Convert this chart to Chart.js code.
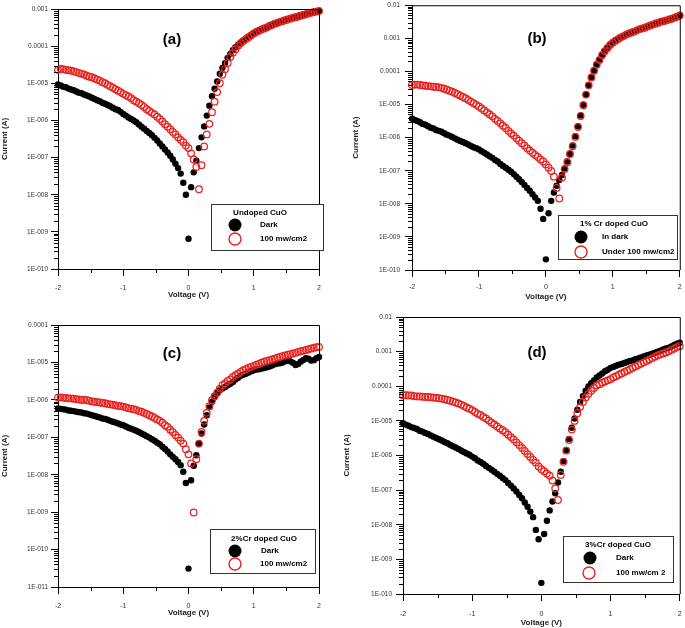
<!DOCTYPE html>
<html><head><meta charset="utf-8">
<script src="https://cdn.jsdelivr.net/npm/chart.js@4.4.0/dist/chart.umd.min.js"></script>
<style>
body{margin:0;background:#fff;width:685px;height:628px;position:relative;overflow:hidden}
canvas{position:absolute}
</style></head><body>
<canvas id="ca" style="left:0;top:0" width="330" height="300"></canvas>
<canvas id="cb" style="left:340px;top:0" width="345" height="310"></canvas>
<canvas id="cc" style="left:0;top:300px" width="330" height="328"></canvas>
<canvas id="cd" style="left:340px;top:300px" width="345" height="328"></canvas>
<script>
const voltage = [-2,-1.96,-1.92,-1.88,-1.84,-1.8,-1.76,-1.72,-1.68,-1.64,-1.6,-1.56,-1.52,-1.48,-1.44,-1.4,-1.36,-1.32,-1.28,-1.24,-1.2,-1.16,-1.12,-1.08,-1.04,-1,-0.96,-0.92,-0.88,-0.84,-0.8,-0.76,-0.72,-0.68,-0.64,-0.6,-0.56,-0.52,-0.48,-0.44,-0.4,-0.36,-0.32,-0.28,-0.24,-0.2,-0.16,-0.12,-0.08,-0.04,0,0.04,0.08,0.12,0.16,0.2,0.24,0.28,0.32,0.36,0.4,0.44,0.48,0.52,0.56,0.6,0.64,0.68,0.72,0.76,0.8,0.84,0.88,0.92,0.96,1,1.04,1.08,1.12,1.16,1.2,1.24,1.28,1.32,1.36,1.4,1.44,1.48,1.52,1.56,1.6,1.64,1.68,1.72,1.76,1.8,1.84,1.88,1.92,1.96,2];

const darkA = [9.3e-6,8.7e-6,8.1e-6,7.8e-6,7.2e-6,6.8e-6,6.5e-6,6.0e-6,5.6e-6,5.4e-6,
5.0e-6,4.7e-6,4.4e-6,4.1e-6,3.8e-6,3.5e-6,3.3e-6,3.0e-6,2.8e-6,2.6e-6,
2.4e-6,2.2e-6,2.0e-6,1.9e-6,1.7e-6,1.5e-6,1.35e-6,1.2e-6,1.1e-6,1.0e-6,
8.9e-7,7.8e-7,6.8e-7,6.0e-7,5.2e-7,4.6e-7,4.0e-7,3.4e-7,2.9e-7,2.4e-7,
2.0e-7,1.66e-7,1.38e-7,1.12e-7,8.9e-8,6.8e-8,5.2e-8,3.7e-8,2.1e-8,1.0e-8,
6.5e-10,1.6e-8,4.0e-8,8.3e-8,1.8e-7,3.5e-7,6.9e-7,1.35e-6,2.5e-6,4.5e-6,
7.1e-6,1.12e-5,1.8e-5,2.6e-5,3.5e-5,4.8e-5,6.2e-5,7.8e-5,9.3e-5,1.1e-4,
1.26e-4,1.4e-4,1.6e-4,1.8e-4,2.0e-4,2.2e-4,2.45e-4,2.6e-4,2.9e-4,3.1e-4,
3.3e-4,3.5e-4,3.8e-4,4.0e-4,4.3e-4,4.5e-4,4.8e-4,5.0e-4,5.3e-4,5.6e-4,
5.9e-4,6.2e-4,6.5e-4,6.8e-4,7.1e-4,7.4e-4,7.8e-4,8.1e-4,8.3e-4,8.7e-4,8.9e-4];
const lightA = [2.3e-5,2.45e-5,2.4e-5,2.3e-5,2.25e-5,2.2e-5,2.1e-5,2.0e-5,1.9e-5,1.8e-5,
1.74e-5,1.6e-5,1.5e-5,1.45e-5,1.35e-5,1.26e-5,1.17e-5,1.07e-5,1.0e-5,9.1e-6,
8.3e-6,7.6e-6,6.9e-6,6.3e-6,5.8e-6,5.2e-6,4.8e-6,4.4e-6,4.0e-6,3.5e-6,
3.2e-6,2.9e-6,2.6e-6,2.3e-6,2.0e-6,1.8e-6,1.6e-6,1.45e-6,1.26e-6,1.1e-6,
9.3e-7,7.9e-7,6.8e-7,5.8e-7,4.9e-7,4.2e-7,3.5e-7,3.0e-7,2.6e-7,2.1e-7,
1.8e-7,1.3e-7,8.9e-8,5.6e-8,1.4e-8,6.2e-8,2.0e-7,4.2e-7,8.1e-7,1.66e-6,
3.2e-6,5.8e-6,1.0e-5,1.7e-5,2.4e-5,3.5e-5,5.1e-5,6.6e-5,8.3e-5,1.02e-4,
1.2e-4,1.38e-4,1.55e-4,1.74e-4,1.95e-4,2.2e-4,2.4e-4,2.6e-4,2.8e-4,3.0e-4,
3.2e-4,3.5e-4,3.7e-4,4.0e-4,4.2e-4,4.5e-4,4.7e-4,5.0e-4,5.2e-4,5.5e-4,
5.8e-4,6.0e-4,6.3e-4,6.6e-4,6.9e-4,7.2e-4,7.6e-4,7.9e-4,8.3e-4,8.5e-4,8.9e-4];

const darkB = [3.7e-6,3.4e-6,3.2e-6,2.9e-6,2.6e-6,2.45e-6,2.2e-6,2.0e-6,1.9e-6,1.7e-6,
1.6e-6,1.5e-6,1.35e-6,1.23e-6,1.15e-6,1.05e-6,9.5e-7,8.7e-7,7.9e-7,7.4e-7,
6.8e-7,6.2e-7,5.6e-7,5.1e-7,4.8e-7,4.4e-7,3.9e-7,3.5e-7,3.1e-7,2.75e-7,
2.45e-7,2.1e-7,1.9e-7,1.6e-7,1.4e-7,1.23e-7,1.07e-7,9.3e-8,7.9e-8,6.6e-8,
5.5e-8,4.6e-8,3.7e-8,3.0e-8,2.5e-8,1.95e-8,1.55e-8,1.23e-8,7.1e-9,3.5e-9,
2.1e-10,5.2e-9,1.23e-8,2.2e-8,3.5e-8,5.2e-8,7.4e-8,1.17e-7,1.9e-7,3.2e-7,
5.8e-7,1.1e-6,2.2e-6,4.7e-6,9.8e-6,2.0e-5,3.9e-5,6.8e-5,1.07e-4,1.6e-4,
2.3e-4,3.2e-4,4.2e-4,5.2e-4,6.5e-4,7.6e-4,8.7e-4,9.8e-4,1.07e-3,1.17e-3,
1.3e-3,1.4e-3,1.5e-3,1.6e-3,1.75e-3,1.9e-3,2.0e-3,2.1e-3,2.3e-3,2.45e-3,
2.6e-3,2.8e-3,2.95e-3,3.2e-3,3.3e-3,3.5e-3,3.7e-3,3.9e-3,4.2e-3,4.5e-3,4.9e-3];
const lightB = [3.9e-5,4.0e-5,4.0e-5,3.9e-5,3.8e-5,3.7e-5,3.6e-5,3.55e-5,3.45e-5,3.4e-5,
3.3e-5,3.2e-5,3.0e-5,2.8e-5,2.6e-5,2.45e-5,2.25e-5,2.05e-5,1.85e-5,1.7e-5,
1.55e-5,1.38e-5,1.23e-5,1.1e-5,9.8e-6,8.7e-6,7.6e-6,6.6e-6,5.8e-6,5.0e-6,
4.4e-6,3.7e-6,3.2e-6,2.7e-6,2.3e-6,1.95e-6,1.6e-6,1.35e-6,1.15e-6,9.5e-7,
8.1e-7,6.8e-7,5.8e-7,4.8e-7,4.1e-7,3.5e-7,3.0e-7,2.6e-7,2.2e-7,1.9e-7,
1.55e-7,1.23e-7,9.8e-8,6.6e-8,3.0e-8,1.45e-8,6.2e-8,1.12e-7,1.8e-7,3.2e-7,
5.5e-7,1.05e-6,2.1e-6,4.5e-6,9.5e-6,2.0e-5,3.8e-5,6.6e-5,1.05e-4,1.6e-4,
2.2e-4,3.1e-4,4.1e-4,5.1e-4,6.3e-4,7.4e-4,8.5e-4,9.5e-4,1.07e-3,1.17e-3,
1.3e-3,1.4e-3,1.5e-3,1.6e-3,1.75e-3,1.9e-3,2.0e-3,2.1e-3,2.3e-3,2.45e-3,
2.6e-3,2.8e-3,2.95e-3,3.2e-3,3.3e-3,3.5e-3,3.7e-3,3.9e-3,4.2e-3,4.5e-3,4.9e-3];

const darkC = [5.9e-7,5.75e-7,5.6e-7,5.5e-7,5.2e-7,5.1e-7,5.0e-7,4.8e-7,4.7e-7,4.6e-7,
4.4e-7,4.3e-7,4.1e-7,3.9e-7,3.7e-7,3.55e-7,3.4e-7,3.2e-7,3.1e-7,2.95e-7,
2.75e-7,2.6e-7,2.5e-7,2.35e-7,2.2e-7,2.1e-7,1.95e-7,1.8e-7,1.7e-7,1.6e-7,
1.5e-7,1.38e-7,1.26e-7,1.17e-7,1.07e-7,9.8e-8,8.9e-8,8.1e-8,7.2e-8,6.5e-8,
5.6e-8,4.9e-8,4.2e-8,3.5e-8,3.0e-8,2.6e-8,2.2e-8,1.8e-8,1.2e-8,6.0e-9,
3.1e-11,7.1e-9,1.74e-8,3.3e-8,6.6e-8,1.26e-7,2.2e-7,3.9e-7,6.3e-7,8.9e-7,
1.2e-6,1.55e-6,1.8e-6,2.0e-6,2.2e-6,2.45e-6,2.7e-6,3.0e-6,3.5e-6,3.9e-6,
4.4e-6,4.7e-6,5.0e-6,5.4e-6,5.8e-6,6.2e-6,6.5e-6,6.6e-6,6.9e-6,7.1e-6,
7.4e-6,7.8e-6,8.3e-6,8.9e-6,9.3e-6,9.5e-6,1.0e-5,1.07e-5,1.1e-5,1.07e-5,
9.8e-6,8.5e-6,9.1e-6,1.05e-5,1.17e-5,1.3e-5,1.26e-5,1.12e-5,1.15e-5,1.3e-5,1.4e-5];
const lightC = [1.15e-6,1.17e-6,1.15e-6,1.12e-6,1.1e-6,1.1e-6,1.07e-6,1.05e-6,1.02e-6,1.0e-6,
1.0e-6,9.8e-7,9.5e-7,9.1e-7,8.9e-7,8.7e-7,8.5e-7,8.3e-7,8.1e-7,7.8e-7,
7.6e-7,7.4e-7,7.2e-7,6.9e-7,6.8e-7,6.6e-7,6.3e-7,6.0e-7,5.75e-7,5.6e-7,
5.4e-7,5.0e-7,4.8e-7,4.5e-7,4.2e-7,3.9e-7,3.6e-7,3.3e-7,3.0e-7,2.75e-7,
2.45e-7,2.1e-7,1.9e-7,1.6e-7,1.38e-7,1.15e-7,9.8e-8,8.1e-8,6.8e-8,4.8e-8,
3.5e-8,2.0e-8,9.8e-10,2.6e-8,6.8e-8,1.4e-7,2.75e-7,4.5e-7,6.8e-7,9.8e-7,
1.26e-6,1.55e-6,2.0e-6,2.45e-6,2.75e-6,3.2e-6,3.5e-6,4.1e-6,4.6e-6,5.0e-6,
5.6e-6,6.2e-6,6.6e-6,7.2e-6,7.6e-6,8.1e-6,8.7e-6,9.1e-6,9.8e-6,1.05e-5,
1.1e-5,1.15e-5,1.2e-5,1.26e-5,1.35e-5,1.4e-5,1.48e-5,1.55e-5,1.6e-5,1.66e-5,
1.74e-5,1.8e-5,1.9e-5,2.0e-5,2.05e-5,2.15e-5,2.25e-5,2.35e-5,2.45e-5,2.55e-5,2.6e-5];

const darkD = [8.5e-6,7.8e-6,7.2e-6,6.6e-6,6.2e-6,5.8e-6,5.2e-6,4.9e-6,4.5e-6,4.2e-6,
3.8e-6,3.5e-6,3.2e-6,2.95e-6,2.7e-6,2.45e-6,2.25e-6,2.05e-6,1.85e-6,1.7e-6,
1.55e-6,1.4e-6,1.26e-6,1.15e-6,1.05e-6,9.3e-7,8.3e-7,7.2e-7,6.5e-7,5.8e-7,
5.0e-7,4.4e-7,3.9e-7,3.4e-7,2.95e-7,2.6e-7,2.25e-7,1.95e-7,1.6e-7,1.35e-7,
1.12e-7,9.1e-8,7.2e-8,5.8e-8,4.4e-8,3.3e-8,2.4e-8,1.66e-8,7.1e-9,3.8e-9,
2.1e-10,5.4e-9,1.3e-8,2.6e-8,4.7e-8,8.1e-8,1.66e-7,3.4e-7,6.9e-7,1.45e-6,
3.0e-6,6.3e-6,1.17e-5,2.1e-5,3.5e-5,5.2e-5,7.4e-5,9.8e-5,1.23e-4,1.48e-4,
1.8e-4,2.05e-4,2.35e-4,2.7e-4,3.0e-4,3.4e-4,3.6e-4,3.9e-4,4.2e-4,4.4e-4,
4.7e-4,5.0e-4,5.4e-4,5.6e-4,6.0e-4,6.3e-4,6.8e-4,7.2e-4,7.8e-4,8.1e-4,
8.7e-4,9.3e-4,1.0e-3,1.07e-3,1.15e-3,1.23e-3,1.3e-3,1.4e-3,1.55e-3,1.7e-3,1.8e-3];
const lightD = [5.5e-5,5.5e-5,5.4e-5,5.4e-5,5.2e-5,5.1e-5,5.1e-5,5.0e-5,4.9e-5,4.9e-5,
4.8e-5,4.7e-5,4.6e-5,4.5e-5,4.4e-5,4.2e-5,4.0e-5,3.8e-5,3.6e-5,3.4e-5,
3.2e-5,2.95e-5,2.7e-5,2.45e-5,2.25e-5,2.05e-5,1.8e-5,1.6e-5,1.48e-5,1.3e-5,
1.17e-5,1.02e-5,8.9e-6,7.9e-6,6.9e-6,6.0e-6,5.4e-6,4.7e-6,4.0e-6,3.4e-6,
2.9e-6,2.4e-6,2.0e-6,1.66e-6,1.35e-6,1.1e-6,9.1e-7,7.4e-7,6.2e-7,4.8e-7,
4.0e-7,3.5e-7,3.0e-7,2.6e-7,1.9e-7,1.12e-7,5.2e-8,2.75e-7,6.6e-7,1.38e-6,
2.8e-6,5.6e-6,1.0e-5,1.66e-5,2.5e-5,3.5e-5,4.7e-5,6.0e-5,7.4e-5,8.9e-5,
1.05e-4,1.15e-4,1.26e-4,1.38e-4,1.48e-4,1.6e-4,1.8e-4,1.95e-4,2.15e-4,2.35e-4,
2.6e-4,2.8e-4,3.1e-4,3.4e-4,3.7e-4,4.1e-4,4.5e-4,4.9e-4,5.4e-4,5.9e-4,
6.5e-4,7.1e-4,7.8e-4,8.3e-4,8.9e-4,9.5e-4,1.02e-3,1.12e-3,1.23e-3,1.35e-3,1.45e-3];

const xTickLabels = ['-2','-1','0','1','2'];
const yTickLabelsAB = ['1E-010','1E-009','1E-008','1E-007','1E-006','1E-005','0.0001','0.001','0.01'];
const yTickLabelsC = ['1E-011','1E-010','1E-009','1E-008','1E-007','1E-006','1E-005','0.0001'];

const legendTitles = ['Undoped CuO','1% Cr doped CuO','2%Cr doped CuO','3%Cr doped CuO'];
const darkNames = ['Dark','In dark','Dark','Dark'];
const lightNames = ['100 mw/cm2','Under 100 mw/cm2','100 mw/cm2','100 mw/cm 2'];
const panelTags = ['(a)','(b)','(c)','(d)'];

const FONT = "'Liberation Sans', Arial, sans-serif";
const RED = '#e8231f';

const panels = [
 {id:'ca', w:330, h:300, area:{l:58,r:319,t:9,b:269}, minExp:-10, maxExp:-3, labels:yTickLabelsAB, dark:darkA, light:lightA,
  xPad:8, xTitlePad:0, yTitlePad:0, yPad:3, tag:[172,40], box:[211,204,112,46], title:[260,213], row1:[235,260,225], row2:[235,260,239]},
 {id:'cb', w:345, h:310, area:{l:72,r:342,t:3,b:270}, minExp:-10, maxExp:-2, labels:yTickLabelsAB, dark:darkB, light:lightB,
  xPad:6, xTitlePad:8, yTitlePad:11, yPad:5, tag:[197,39], box:[218,215,119,44], title:[274,224], row1:[241,262,237], row2:[241,262,252]},
 {id:'cc', w:330, h:328, area:{l:58,r:319,t:25,b:287}, minExp:-11, maxExp:-4, labels:yTickLabelsC, dark:darkC, light:lightC,
  xPad:8, xTitlePad:10, yTitlePad:0, yPad:3, tag:[172,54], box:[210,229,105,44], title:[264,239], row1:[235,261,251], row2:[235,260,264]},
 {id:'cd', w:345, h:328, area:{l:63,r:342,t:17,b:294}, minExp:-10, maxExp:-2, labels:yTickLabelsAB, dark:darkD, light:lightD,
  xPad:9, xTitlePad:0, yTitlePad:2, yPad:4, tag:[197,53], box:[223,236,110,46], title:[278,245], row1:[250,276,258], row2:[249,276,273]}
];

function makePanel(p, k) {
  const annot = {
    id:'annot'+k,
    afterDraw(chart){
      const ctx = chart.ctx, a = chart.chartArea;
      const xs = chart.scales.x, ys = chart.scales.y;
      ctx.save();
      ctx.strokeStyle = '#000'; ctx.lineWidth = 1;
      ctx.beginPath();
      ctx.moveTo(a.left, a.top + 0.5); ctx.lineTo(a.right + 0.5, a.top + 0.5); ctx.lineTo(a.right + 0.5, a.bottom);
      xs.ticks.forEach(t => { if (!Number.isInteger(t.value)) { const px = Math.round(xs.getPixelForValue(t.value)) + 0.5; ctx.moveTo(px, a.bottom); ctx.lineTo(px, a.bottom + 4); } });
      ys.ticks.forEach(t => { if (!t.major) { const py = Math.round(ys.getPixelForValue(t.value)) + 0.5; ctx.moveTo(a.left - 4, py); ctx.lineTo(a.left, py); } });
      ctx.stroke();
      ctx.fillStyle = '#000';
      ctx.font = 'bold 15px ' + FONT;
      ctx.textAlign = 'center'; ctx.textBaseline = 'middle';
      ctx.fillText(panelTags[k], p.tag[0], p.tag[1]);
      const b = p.box;
      ctx.fillStyle = '#fff';
      ctx.fillRect(b[0], b[1], b[2], b[3]);
      ctx.strokeStyle = '#333'; ctx.lineWidth = 1;
      ctx.strokeRect(b[0] + 0.5, b[1] + 0.5, b[2], b[3]);
      ctx.fillStyle = '#000';
      ctx.font = 'bold 8px ' + FONT;
      ctx.fillText(legendTitles[k], p.title[0], p.title[1]);
      ctx.beginPath(); ctx.arc(p.row1[0], p.row1[2], 6.5, 0, Math.PI*2); ctx.fill();
      ctx.strokeStyle = RED; ctx.lineWidth = 1.4;
      ctx.beginPath(); ctx.arc(p.row2[0], p.row2[2], 6, 0, Math.PI*2); ctx.stroke();
      ctx.textAlign = 'left';
      ctx.fillText(darkNames[k], p.row1[1], p.row1[2]);
      ctx.fillText(lightNames[k], p.row2[1], p.row2[2]);
      ctx.restore();
    }
  };
  new Chart(document.getElementById(p.id), {
    type:'scatter',
    data:{datasets:[
      {label:lightNames[k], data:voltage.map((v,i)=>({x:v,y:p.light[i]})), pointRadius:3.3, pointBackgroundColor:'rgba(0,0,0,0)',
       pointBorderColor:RED, pointBorderWidth:1.25, order:1, clip:false, showLine:false},
      {label:darkNames[k], data:voltage.map((v,i)=>({x:v,y:p.dark[i]})), pointRadius:3.2, pointBackgroundColor:'#000',
       pointBorderColor:'#000', pointBorderWidth:0, order:2, clip:false, showLine:false}
    ]},
    options:{
      responsive:false, animation:false, devicePixelRatio:1, events:[],
      layout:{padding:{left:0, top:p.area.t, right:p.w - p.area.r, bottom:0}},
      plugins:{legend:{display:false}, tooltip:{enabled:false}},
      scales:{
        x:{type:'linear', min:-2, max:2,
          afterFit(s){ s.height = p.h - p.area.b; s.paddingLeft = 0; s.paddingRight = 0; },
          ticks:{stepSize:0.5, autoSkip:false, maxRotation:0, padding:p.xPad, color:'#333', font:{family:FONT, size:7},
            callback:(v)=> Number.isInteger(v) ? xTickLabels[v + 2] : ''},
          grid:{drawOnChartArea:false, tickLength:7, color:'#000',
            tickColor:(c)=> (c.tick && Number.isInteger(c.tick.value)) ? '#000' : 'rgba(0,0,0,0)'},
          border:{color:'#000', width:1},
          title:{display:true, text:'Voltage (V)', color:'#222', font:{family:FONT, size:8, weight:'bold'}, padding:{top:0, bottom:p.xTitlePad}}
        },
        y:{type:'logarithmic', min:Math.pow(10,p.minExp), max:Math.pow(10,p.maxExp),
          afterFit(s){ s.width = p.area.l; s.paddingTop = 0; s.paddingBottom = 0; },
          afterBuildTicks(s){
            const t = [];
            for (let e = p.minExp; e <= p.maxExp; e++) {
              t.push({value:Math.pow(10,e), major:true});
              if (e < p.maxExp) for (let m = 2; m <= 9; m++) t.push({value:m*Math.pow(10,e), major:false});
            }
            s.ticks = t;
          },
          ticks:{autoSkip:false, padding:p.yPad, color:'#333', font:{family:FONT, size:6.5},
            callback:(v)=>{ const e = Math.log10(v), r = Math.round(e); return Math.abs(e - r) < 1e-6 ? p.labels[r - p.minExp] : ''; }},
          grid:{drawOnChartArea:false, tickLength:7, color:'#000',
            tickColor:(c)=> (c.tick && c.tick.major) ? '#000' : 'rgba(0,0,0,0)'},
          border:{color:'#000', width:1},
          title:{display:true, text:'Current (A)', color:'#222', font:{family:FONT, size:8, weight:'bold'}, padding:{top:p.yTitlePad, bottom:0}}
        }
      }
    },
    plugins:[annot]
  });
}
panels.forEach(makePanel);
</script>
</body></html>
